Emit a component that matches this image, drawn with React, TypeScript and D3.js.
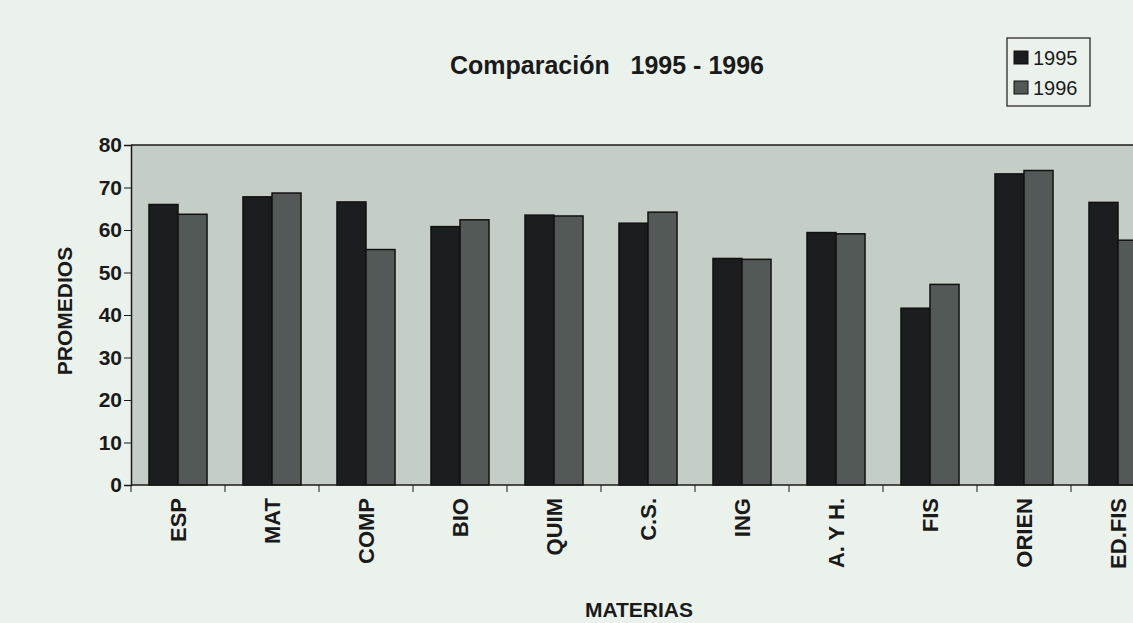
import React, { useRef, useEffect } from 'react';
import * as d3 from 'd3';

const materias = ['ESP', 'MAT', 'COMP', 'BIO', 'QUIM', 'C.S.', 'ING', 'A. Y H.', 'FIS', 'ORIEN', 'ED.FIS'];
const years = ['1995', '1996'];
const prom1995 = [66, 67.8, 66.6, 60.8, 63.5, 61.6, 53.3, 59.4, 41.6, 73.2, 66.5];
const prom1996 = [63.7, 68.7, 55.4, 62.4, 63.3, 64.2, 53.1, 59.1, 47.2, 74, 57.6];
const yTicks = [0, 10, 20, 30, 40, 50, 60, 70, 80];

const W = 1133;
const H = 623;
const font = 'Arial, "Liberation Sans", sans-serif';
const narrow = '"Liberation Sans Narrow", "Arial Narrow", Arial, sans-serif';

export default function App() {
  const svgRef = useRef<SVGSVGElement>(null);

  useEffect(() => {
    document.body.style.margin = '0';
    const svg = d3.select(svgRef.current);
    svg.selectAll('*').remove();

    const data = materias.map((m, i) => ({ m, vals: [prom1995[i], prom1996[i]] }));
    const colors = ['#1b1e1e', '#535957'];

    const left = 131;
    const top = 145;
    const bottom = 485;

    const x = d3.scaleBand().domain(materias).range([left, left + 94 * materias.length]).padding(0);
    const x1 = d3.scaleBand().domain(years).range([0, x.bandwidth()]).paddingInner(0).paddingOuter(0.62);
    const y = d3.scaleLinear().domain([0, 80]).range([bottom, top]);

    svg.append('rect').attr('width', W).attr('height', H).attr('fill', '#ebf2ec');

    // plot area
    svg.append('rect')
      .attr('x', left).attr('y', top)
      .attr('width', W - left).attr('height', bottom - top)
      .attr('fill', '#c4cec7');
    svg.append('line')
      .attr('x1', left).attr('x2', W).attr('y1', top).attr('y2', top)
      .attr('stroke', '#1a1a1a').attr('stroke-width', 1.5);

    // bars
    svg.append('g')
      .selectAll('g')
      .data(data)
      .join('g')
      .attr('transform', d => `translate(${x(d.m)},0)`)
      .selectAll('rect')
      .data(d => d.vals.map((v, i) => ({ v, k: years[i], i })))
      .join('rect')
      .attr('x', d => x1(d.k)!)
      .attr('y', d => y(d.v))
      .attr('width', x1.bandwidth())
      .attr('height', d => bottom - y(d.v))
      .attr('fill', d => colors[d.i])
      .attr('stroke', '#111')
      .attr('stroke-width', 1.5);

    // y axis
    const ya = svg.append('g')
      .attr('transform', `translate(${left},0)`)
      .call(d3.axisLeft(y).tickValues(yTicks).tickSize(7).tickFormat(d3.format('d')));
    ya.select('.domain').attr('stroke', '#1a1a1a').attr('stroke-width', 1.5);
    ya.selectAll('line').attr('stroke', '#1a1a1a');
    ya.selectAll('text')
      .attr('font-family', font).attr('font-size', 21).attr('font-weight', 'bold')
      .attr('fill', '#1a1a1a').attr('x', -9);

    // x axis
    const xa = svg.append('g')
      .attr('transform', `translate(0,${bottom})`);
    xa.append('line')
      .attr('x1', left).attr('x2', W).attr('stroke', '#1a1a1a').attr('stroke-width', 1.5);
    xa.selectAll('line.tk')
      .data(materias)
      .join('line')
      .attr('class', 'tk')
      .attr('x1', d => x(d)!).attr('x2', d => x(d)!)
      .attr('y1', 0).attr('y2', 7)
      .attr('stroke', '#1a1a1a');
    xa.selectAll('text')
      .data(materias)
      .join('text')
      .attr('transform', d => `translate(${x(d)! + x.bandwidth() / 2 + 8},13) rotate(-90)`)
      .attr('text-anchor', 'end')
      .attr('font-family', font).attr('font-size', 22).attr('font-weight', 'bold')
      .attr('fill', '#1a1a1a')
      .text(d => d);

    // axis titles
    svg.append('text')
      .attr('transform', `translate(${72},${311}) rotate(-90)`)
      .attr('text-anchor', 'middle')
      .attr('font-family', font).attr('font-size', 21).attr('font-weight', 'bold')
      .attr('fill', '#1a1a1a')
      .text('PROMEDIOS');
    svg.append('text')
      .attr('x', 639).attr('y', 617)
      .attr('text-anchor', 'middle')
      .attr('font-family', narrow).attr('font-size', 21).attr('font-weight', 'bold')
      .attr('fill', '#1a1a1a')
      .text('MATERIAS');

    // title
    svg.append('text')
      .attr('x', 607).attr('y', 74)
      .attr('text-anchor', 'middle')
      .attr('font-family', font).attr('font-size', 25).attr('font-weight', 'bold')
      .attr('fill', '#1a1a1a')
      .style('white-space', 'pre')
      .text('Comparación   1995 - 1996');

    // legend
    const lg = svg.append('g').attr('transform', 'translate(1007,38)');
    lg.append('rect')
      .attr('width', 83).attr('height', 68)
      .attr('fill', 'none').attr('stroke', '#1a1a1a').attr('stroke-width', 1.2);
    years.forEach((yr, i) => {
      lg.append('rect')
        .attr('x', 7).attr('y', 13 + i * 30).attr('width', 14).attr('height', 13)
        .attr('fill', colors[i]).attr('stroke', '#111');
      lg.append('text')
        .attr('x', 26).attr('y', 27 + i * 30)
        .attr('font-family', font).attr('font-size', 20)
        .attr('fill', '#1a1a1a')
        .text(yr);
    });
  }, []);

  return <svg ref={svgRef} width={W} height={H} style={{ display: 'block' }}></svg>;
}
